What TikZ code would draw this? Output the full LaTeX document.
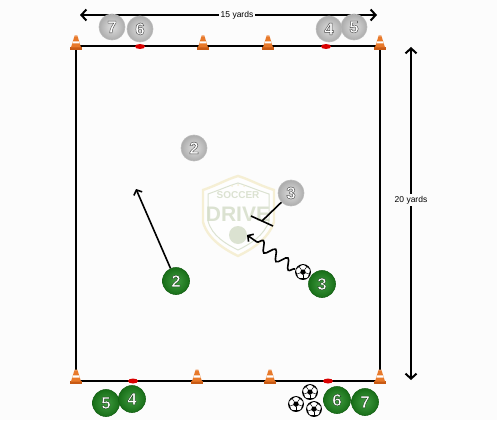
\documentclass[tikz,border=0pt]{standalone}
\usepackage{fontspec}
\setmainfont{Liberation Sans}
\usetikzlibrary{arrows.meta,decorations.pathmorphing,shapes.geometric}

\definecolor{conebody}{HTML}{E8792A}
\definecolor{conedark}{HTML}{C85A14}
\definecolor{pitchgreen}{HTML}{1E8A1E}
\definecolor{logogreen}{HTML}{D3DBC6}
\definecolor{logogold}{HTML}{F4ECCB}

% white shirt numbers with a thin dark outline (fill, then stroke)
\newcommand{\outlinednum}[2]{%
  \special{pdf:literal direct 2 Tr 0.45 w #1 RG}#2\special{pdf:literal direct 0 Tr}}

\tikzset{
  numfont/.style={font=\bfseries\fontsize{17}{17}\selectfont, text=white},
  greyp/.style={circle, minimum size=26pt, inner sep=0pt,
    shading=radial, inner color=gray!25, outer color=gray!65,
    draw=gray!55, line width=0.6pt, numfont},
  greenp/.style={circle, minimum size=27pt, inner sep=0pt,
    shading=radial, inner color=pitchgreen!85!white, outer color=pitchgreen!80!black,
    draw=pitchgreen!70!black, line width=0.6pt, numfont},
  marker/.style={ellipse, minimum width=10pt, minimum height=5pt, inner sep=0pt, fill=red!85!black},
  fieldline/.style={line width=2pt, black},
  measure/.style={line width=2pt, {Straight Barb[length=5pt,width=11pt]}-{Straight Barb[length=5pt,width=11pt]}},
  run/.style={line width=1.6pt, -{Straight Barb[length=4pt,width=9pt]}},
  pics/cone/.style={code={
    \fill[conedark] (-6,6) rectangle (6,3);
    \fill[conebody] (-5,3.5) -- (5,3.5) -- (1.8,-7) -- (-1.8,-7) -- cycle;
    \fill[white] (-3.6,-0.5) -- (3.6,-0.5) -- (3.0,-2.7) -- (-3.0,-2.7) -- cycle;
    \fill[conebody!80!white] (-1.8,-7) -- (1.8,-7) -- (1.4,-8.5) -- (-1.4,-8.5) -- cycle;
  }},
  pics/ball/.style={code={
    \fill[white] (0,0) circle (7.5);
    \fill[black] (90:3) -- (162:3) -- (234:3) -- (306:3) -- (18:3) -- cycle;
    \begin{scope}
      \clip (0,0) circle (7.5);
      \foreach \a in {18,90,162,234,306}{
        \fill[black] (\a:6.3) ++(\a+90:2.8) -- ++(\a:2.5) -- ++(\a-90:5.6) -- ++(\a+180:2.5) -- cycle;
        \draw[black, line width=0.5pt] (\a:3) -- (\a:6);
      }
    \end{scope}
    \draw[black, line width=0.8pt] (0,0) circle (7.5);
  }}
}

\begin{document}
\begin{tikzpicture}[x=1pt, y=-1pt]
  \useasboundingbox (0,0) rectangle (497,420);
  \fill[white!98!gray] (0,0) rectangle (497,420);

  % faint club crest in the middle of the grid
  \begin{scope}[opacity=0.8]
    \draw[logogold, line width=2.4pt, fill=white]
      (203,190) .. controls (220,184) and (225,180) .. (238,176)
      .. controls (251,180) and (256,184) .. (274,190)
      -- (274,222) .. controls (268,240) and (250,250) .. (238,256)
      .. controls (226,250) and (208,240) .. (203,222) -- cycle;
    \draw[logogreen, line width=1pt]
      (208,194) .. controls (222,189) and (228,186) .. (238,183)
      .. controls (248,186) and (254,189) .. (269,194)
      -- (269,221) .. controls (264,236) and (250,244) .. (238,250)
      .. controls (226,244) and (212,236) .. (208,221) -- cycle;
    \node[text=logogreen, font=\bfseries\fontsize{10}{10}\selectfont] (crestA) at (238,195) {SOCCER};
    \node[text=logogreen, font=\bfseries\fontsize{21}{21}\selectfont] (crestB) at (238,214) {DRIVE};
    \fill[logogreen] (238,235) circle (9);
    \fill[logogold] (232,186) circle (1) (238,185) circle (1) (244,186) circle (1);
  \end{scope}

  % grid lines
  \coordinate (tl) at (76,46);
  \coordinate (tr) at (380,46);
  \coordinate (bl) at (76,381);
  \coordinate (br) at (380,381);
  \draw[fieldline] (tl) -- (tr) -- (br) -- (bl) -- cycle;

  % cones
  \foreach \x [count=\i] in {76,203,268,380}{
    \pic (topcone\i) at (\x,44) {cone};
  }
  \foreach \x [count=\i] in {76,197,270,380}{
    \pic (botcone\i) at (\x,378) {cone};
  }

  % gate markers
  \node[marker] (mt1) at (140,46.5) {};
  \node[marker] (mt2) at (326,46.5) {};
  \node[marker] (mb1) at (133,381) {};
  \node[marker] (mb2) at (328,381) {};

  % measurements
  \coordinate (wl) at (80,15);
  \coordinate (wr) at (377,15);
  \draw[measure] (wl) -- (wr);
  \node[fill=white!98!gray, inner sep=2pt, font=\fontsize{8.5}{8.5}\selectfont] (wlab) at (237,15) {15 yards};
  \coordinate (ht) at (411,47);
  \coordinate (hb) at (411,380);
  \draw[measure] (ht) -- (hb);
  \node[fill=white!98!gray, inner sep=2pt, font=\fontsize{8.5}{8.5}\selectfont] (hlab) at (411,200) {20 yards};

  % waiting players, top
  \node[greyp] (g7) at (112,27) {\outlinednum{0.3 0.3 0.3}{7}};
  \node[greyp] (g6) at (140,29) {\outlinednum{0.3 0.3 0.3}{6}};
  \node[greyp] (g4) at (329,29) {\outlinednum{0.3 0.3 0.3}{4}};
  \node[greyp] (g5) at (354,27) {\outlinednum{0.3 0.3 0.3}{5}};

  % active players
  \node[greyp] (g2) at (194,148) {\outlinednum{0.3 0.3 0.3}{2}};
  \node[greyp] (g3) at (291,193) {\outlinednum{0.3 0.3 0.3}{3}};

  % run, dribble and closing-down line
  \coordinate (runend) at (136,189);
  \coordinate (barA) at (251,216);
  \coordinate (barB) at (273,226);
  \coordinate (barmid) at (262,221);
  \draw[line width=1.6pt] (g3) -- (barmid);
  \draw[line width=1.6pt] (barA) -- (barB);

  \pic (ball1) at (303,272) {ball};
  \coordinate (dribstart) at (295,269);
  \coordinate (dribend) at (247,235);
  \draw[run, decorate, decoration={snake, amplitude=5pt, segment length=15pt, post length=6pt}] (dribstart) -- (dribend);

  \node[greenp] (p2) at (176,281) {\outlinednum{0.1 0.25 0.1}{2}};
  \node[greenp] (p3) at (322,284) {\outlinednum{0.1 0.25 0.1}{3}};
  \draw[run] (p2) -- (runend);

  % waiting players, bottom
  \node[greenp] (p5) at (106,403) {\outlinednum{0.1 0.25 0.1}{5}};
  \node[greenp] (p4) at (132,399) {\outlinednum{0.1 0.25 0.1}{4}};
  \pic (ball2) at (296,404) {ball};
  \pic (ball3) at (310,392) {ball};
  \pic (ball4) at (314,409) {ball};
  \node[greenp] (p6) at (337,400) {\outlinednum{0.1 0.25 0.1}{6}};
  \node[greenp] (p7) at (365,402) {\outlinednum{0.1 0.25 0.1}{7}};
\end{tikzpicture}
\end{document}
